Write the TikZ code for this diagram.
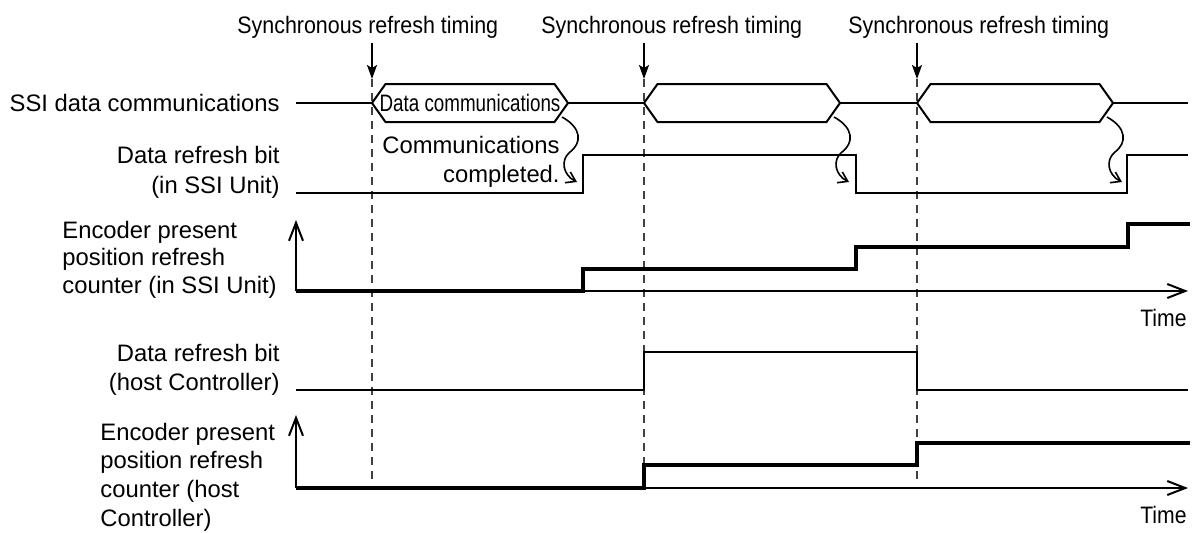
\documentclass[tikz,border=0pt]{standalone}
\usepackage{fontspec}
\setmainfont{Liberation Sans}
\usepackage{graphicx}
\usetikzlibrary{arrows.meta}
\newcommand{\rlines}[1]{\begin{tabular}[t]{@{}r@{}}#1\end{tabular}}
\newcommand{\llines}[1]{\begin{tabular}[t]{@{}l@{}}#1\end{tabular}}
\begin{document}
\begin{tikzpicture}[x=0.5pt,y=-0.5pt,
  lbl/.style={inner sep=0pt, font=\fontsize{11.9}{#1}\selectfont},
  lbl/.default=15,
  sig/.style={line width=0.85pt, line join=miter},
  cnt/.style={line width=2pt, line join=miter},
  axisarr/.style={line width=1pt, -{Straight Barb[length=9pt,width=7pt]}},
  hexa/.style={line width=1pt, line join=miter},
  syncarr/.style={line width=1pt, -{Stealth[length=7pt,width=5pt,inset=1.5pt]}},
  guide/.style={line width=0.6pt, dash pattern=on 4pt off 3pt, black!75},
  squig/.style={line width=0.8pt, -{Straight Barb[length=4.5pt,width=6pt]}},
]
\useasboundingbox (0,0) rectangle (1202,532);

% top labels and sync arrows
\node[lbl, anchor=base west] (s1) at (237,33) {\scalebox{0.9}[1]{Synchronous refresh timing}};
\node[lbl, anchor=base west] (s2) at (541,33) {\scalebox{0.9}[1]{Synchronous refresh timing}};
\node[lbl, anchor=base west] (s3) at (848,33) {\scalebox{0.9}[1]{Synchronous refresh timing}};
\foreach \i/\X in {1/372,2/644,3/917}{
  \coordinate (a\i) at (\X,43);
  \coordinate (t\i) at (\X,79);
  \coordinate (d\i) at (\X,482);
  \draw[guide] (t\i) -- (d\i);
  \draw[syncarr] (a\i) -- (t\i);
}

% left labels
\node[lbl, anchor=base east] (ssiL) at (280,111) {SSI data communications};
\node[lbl=15, anchor=base east] (rbL) at (280,163) {\rlines{Data refresh bit\\(in SSI Unit)}};
\node[lbl=13.75, anchor=base west] (encL) at (62,238) {\llines{Encoder present\\position refresh\\counter (in SSI Unit)}};
\node[lbl=14.5, anchor=base east] (hrbL) at (280,361) {\rlines{Data refresh bit\\(host Controller)}};
\node[lbl=14.35, anchor=base west] (hencL) at (100,440) {\llines{Encoder present\\position refresh\\counter (host\\Controller)}};
\node[lbl=14.5, anchor=base east] (ccL) at (560,153) {\rlines{Communications\\completed.}};

% SSI data communications signal
\coordinate (sigA) at (296,103);
\coordinate (h1l) at (372,103); \coordinate (h1r) at (568,103);
\coordinate (h2l) at (644,103); \coordinate (h2r) at (840,103);
\coordinate (h3l) at (917,103); \coordinate (h3r) at (1113,103);
\coordinate (sigE) at (1188,103);
\draw[sig] (sigA) -- (h1l);
\draw[sig] (h1r) -- (h2l);
\draw[sig] (h2r) -- (h3l);
\draw[sig] (h3r) -- (sigE);
\foreach \L/\R in {372/568,644/840,917/1113}{
  \draw[hexa] (\L,103) -- (\L+13.5,84) -- (\R-13.5,84) -- (\R,103) -- (\R-13.5,122) -- (\L+13.5,122) -- cycle;
  \draw[squig] (\R-6,117) .. controls (\R+14,128) and (\R+14,143) .. (\R+2,152)
               .. controls (\R-8,160) and (\R-5,175) .. (\R+9,182);
}
\node[lbl] (dc) at (470,103) {\scalebox{0.79}[1]{Data communications}};

% data refresh bit (SSI unit)
\draw[sig] (296,193) -- (583,193) -- (583,155) -- (856,155) -- (856,193) -- (1127,193) -- (1127,155) -- (1188,155);

% counter (SSI unit)
\draw[axisarr] (296,291) -- (296,220);
\draw[axisarr] (296,291) -- (1188,291);
\draw[cnt] (296,291) -- (583,291) -- (583,269) -- (856,269) -- (856,247) -- (1128,247) -- (1128,224) -- (1190,224);
\node[lbl, anchor=base east] (time1) at (1187,326) {\scalebox{0.89}[1]{Time}};

% data refresh bit (host)
\draw[sig] (296,390) -- (644,390) -- (644,352) -- (917,352) -- (917,390) -- (1188,390);

% counter (host)
\draw[axisarr] (296,488) -- (296,415);
\draw[axisarr] (296,488) -- (1188,488);
\draw[cnt] (296,488) -- (644,488) -- (644,465) -- (917,465) -- (917,443) -- (1190,443);
\node[lbl, anchor=base east] (time2) at (1187,523) {\scalebox{0.89}[1]{Time}};
\end{tikzpicture}
\end{document}
